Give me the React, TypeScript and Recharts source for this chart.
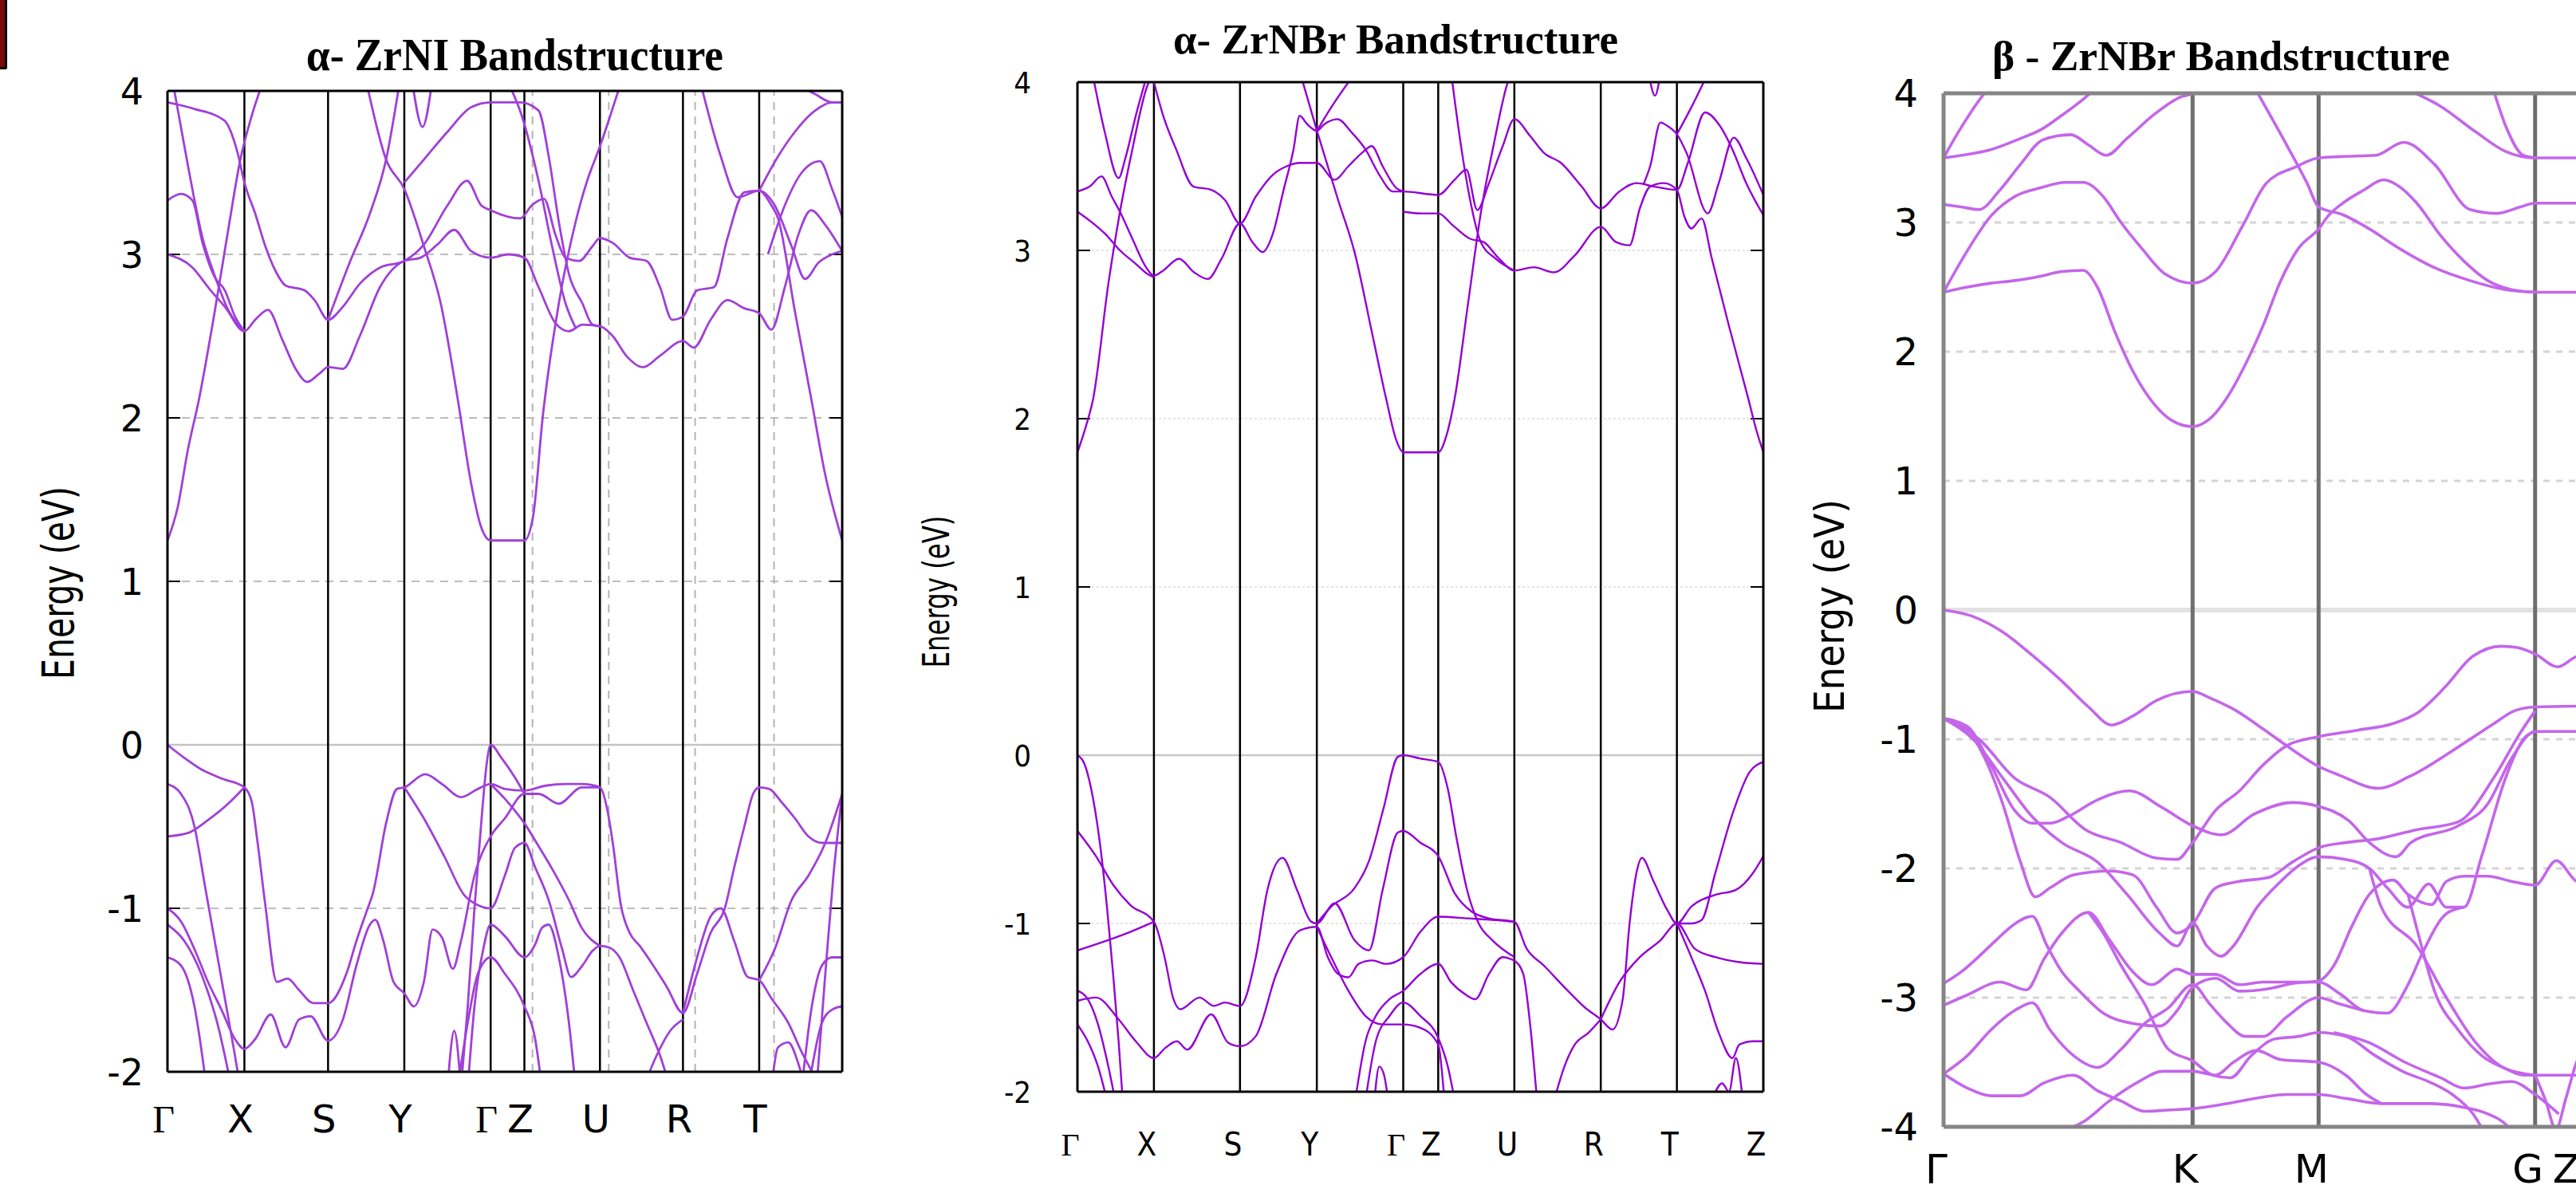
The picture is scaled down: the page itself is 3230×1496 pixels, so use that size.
import type { ReactElement } from 'react'
import { Line, LineChart, ReferenceLine, XAxis, YAxis } from 'recharts'

type Band = [number, number][]

// ---------- α-ZrNI ----------
const zrniPath = [0, 11.4, 23.8, 35.1, 47.9, 52.9, 64.1, 76.4, 87.7, 100]
const zrniLabels = ['Γ', 'X', 'S', 'Y', 'Γ', 'Z', 'U', 'R', 'T', '']
const zrniGuides = [54.1, 65.4, 78.2, 89.9]
const zrniBands: Band[] = [
	[[0, 1.25], [1.5, 1.45], [3, 1.8], [4.7, 2.12], [7, 2.65], [9, 3.15], [10.8, 3.58], [12.5, 3.85], [14.1, 4.05]],
	[[29.5, 4.05], [32.4, 3.58], [35.1, 3.4], [38, 3.05], [40.5, 2.7], [43, 2.12], [45, 1.6], [46.5, 1.33], [47.9, 1.25], [52.9, 1.25], [54.2, 1.4], [55.6, 2.0], [58, 2.7], [60.5, 3.2], [62.2, 3.45], [64, 3.65], [67.2, 4.05]],
	[[79, 4.05], [82, 3.6], [84.5, 3.35], [87.7, 3.39], [89.5, 3.3], [90.5, 3.22], [93, 2.65], [95.4, 2.12], [97.5, 1.65], [100, 1.25]],
	[[0, 3.0], [3.7, 2.92], [6.2, 2.79], [8.5, 2.68], [11.4, 2.53], [13, 2.6], [14.9, 2.66], [17, 2.48], [19, 2.3], [20.7, 2.22], [22.5, 2.27], [23.8, 2.31], [26, 2.3], [28.5, 2.5], [31.5, 2.8], [35.1, 2.96], [37.5, 2.98], [40, 3.06], [42.5, 3.15], [45, 3.02], [47.9, 2.98], [50.5, 3.0], [52.9, 2.98], [55, 2.8], [57.5, 2.58], [59.5, 2.53], [61.5, 2.57], [64.1, 2.56], [66, 2.5], [68, 2.38], [70.5, 2.31], [73, 2.38], [76.4, 2.47], [78, 2.43], [80.5, 2.6], [83, 2.72], [85.5, 2.67], [87.7, 2.64], [89.5, 2.54], [91.5, 2.8], [93.5, 3.12], [95.4, 3.27], [97.5, 3.18], [100, 3.02]],
	[[0.8, 4.05], [3, 3.55], [5.2, 3.1], [7, 2.87], [9, 2.66], [11.4, 2.53]],
	[[0, 3.33], [2, 3.37], [3.7, 3.33], [5.2, 3.07], [7, 2.86], [8.5, 2.78], [10, 2.62], [11.4, 2.53]],
	[[0, 3.93], [4, 3.89], [8.4, 3.82], [10.4, 3.62], [11.4, 3.44], [13, 3.25], [14.5, 3.05], [16, 2.9], [17.5, 2.81], [20.3, 2.78], [21.8, 2.72], [23.8, 2.6], [26, 2.68], [28.5, 2.82], [31.5, 2.92], [35.1, 2.96], [38, 3.06], [41.5, 3.3], [44.4, 3.45], [46.5, 3.3], [47.9, 3.27], [52.3, 3.22], [54, 3.3], [55.8, 3.34], [57.5, 3.12], [59, 2.98], [61, 2.96], [63, 3.05], [64.1, 3.1], [66, 3.07], [68.5, 2.98], [71, 2.96], [73, 2.8], [74.8, 2.6], [76.4, 2.62], [78.5, 2.78], [81, 2.8], [83, 3.1], [85.5, 3.38], [87.7, 3.39], [90, 3.3], [92.5, 3.05], [94.5, 2.85], [96.5, 2.95], [98.5, 3.0], [100, 3.02]],
	[[35.1, 3.44], [38, 3.58], [41.5, 3.75], [45, 3.9], [47.9, 3.93], [52.3, 3.93], [55, 3.88], [56.5, 3.6], [58, 3.2], [59.5, 2.88], [61.5, 2.7], [63, 2.57], [64.1, 2.56]],
	[[23.8, 2.6], [27, 2.95], [30, 3.25], [32.4, 3.58], [34.4, 4.05]],
	[[36.3, 4.05], [37.8, 3.78], [39.2, 4.05]],
	[[87.7, 3.39], [90.5, 3.6], [93, 3.75], [96, 3.88], [98.5, 3.93], [100, 3.93]],
	[[93, 4.05], [96, 3.98], [98.5, 3.93], [100, 3.93]],
	[[89, 3.0], [91.5, 3.3], [94, 3.5], [96.7, 3.57], [98.5, 3.4], [100, 3.23]],
	[[50.5, 4.05], [52.5, 3.85], [55, 3.45], [57, 3.05], [59, 2.7], [60.5, 2.55]],
	// valence
	[[0, 0], [2.5, -0.08], [5, -0.15], [8.3, -0.21], [11.4, -0.26], [12.5, -0.35], [13.3, -0.58], [14.5, -0.98], [16.2, -1.45], [17.8, -1.43], [19.5, -1.5], [21.6, -1.58], [23.8, -1.58], [26.6, -1.39], [28, -1.2], [29.5, -1.02], [30.5, -0.9], [32.4, -0.48], [34, -0.27], [35.1, -0.26], [38.2, -0.18], [40.7, -0.24], [43.5, -0.32], [46, -0.27], [47.9, -0.24], [50, -0.27], [52.9, -0.28], [56, -0.25], [59, -0.24], [61.4, -0.24], [64.1, -0.26], [65.2, -0.4], [66, -0.6], [67.2, -0.98], [68.5, -1.15], [70, -1.23], [72, -1.35], [74, -1.48], [76.4, -1.64], [78.5, -1.4], [80.5, -1.15], [82.6, -1.0], [84, -0.75], [85.5, -0.5], [86.8, -0.3], [87.7, -0.26], [89.2, -0.27], [91, -0.35], [93, -0.45], [95, -0.56], [97.1, -0.6], [100, -0.6]],
	[[0, -0.24], [2, -0.3], [4, -0.5], [5.5, -0.85], [7, -1.2], [8.5, -1.55], [10, -1.9], [10.8, -2.1]],
	[[0, -0.56], [3, -0.54], [6, -0.46], [9, -0.36], [11.4, -0.26]],
	[[0, -1.0], [2, -1.08], [4, -1.25], [6, -1.45], [8, -1.62], [10, -1.8], [11.4, -1.86], [13, -1.8], [15.3, -1.65], [17.5, -1.85], [19.5, -1.68], [21.2, -1.66], [23.8, -1.81], [26, -1.68], [28, -1.35], [30, -1.1], [30.8, -1.07], [32, -1.2], [33.5, -1.45], [35.1, -1.52], [36.5, -1.6], [38, -1.45], [39.3, -1.13], [40.7, -1.18], [42.3, -1.37], [43.5, -1.2], [45.5, -0.8], [47.9, -0.56], [50, -0.45], [52.9, -0.3], [55, -0.3], [58, -0.36], [61.4, -0.26], [64.1, -0.26]],
	[[35.1, -0.26], [38, -0.45], [41, -0.68], [44, -0.92], [46, -0.98], [47.9, -1.0], [50, -0.8], [51.5, -0.63], [52.9, -0.6], [54.5, -0.75], [56.5, -0.95], [58.5, -1.25], [59.8, -1.42], [61.5, -1.35], [63, -1.26], [64.1, -1.23], [65.5, -1.24], [67, -1.3], [69, -1.5], [71, -1.7], [73, -1.9], [74.5, -2.1]],
	[[43.5, -2.1], [44.5, -1.6], [45.5, -1.0], [46.5, -0.48], [47.3, -0.12], [47.9, 0], [49.5, -0.08], [51.5, -0.2], [52.9, -0.3]],
	[[47.9, -0.24], [50, -0.33], [52.9, -0.48], [55, -0.62], [57.3, -0.78], [59.5, -0.95], [61.4, -1.12], [64.1, -1.23]],
	[[44.5, -2.1], [45.5, -1.6], [46.8, -1.25], [47.9, -1.1], [50, -1.17], [52.9, -1.3], [54.5, -1.22], [55.5, -1.12], [56.5, -1.1], [58, -1.3], [59.5, -1.7], [60.5, -2.1]],
	[[43, -2.1], [44.5, -1.7], [46, -1.4], [47.9, -1.3], [50, -1.4], [52.9, -1.6], [54.5, -1.8], [55.5, -2.1]],
	[[41.5, -2.1], [42.5, -1.75], [43.5, -2.1]],
	[[76.4, -1.64], [78.5, -1.3], [80.5, -1.05], [82, -1.0], [84, -1.2], [86, -1.42], [87.7, -1.44], [89.5, -1.55], [92, -1.7], [94, -1.88], [95.5, -2.0], [96.5, -2.1]],
	[[87.7, -1.44], [90, -1.25], [92.5, -0.95], [95, -0.8], [97.5, -0.6], [100, -0.3]],
	[[94, -2.1], [95.5, -1.6], [97, -1.35], [98.5, -1.3], [100, -1.3]],
	[[89.5, -2.1], [90.5, -1.85], [92, -1.82], [93.5, -1.95], [94.5, -2.1]],
	[[95, -2.1], [97, -1.7], [98.5, -1.62], [100, -1.6]],
	[[70.5, -2.1], [72.5, -1.9], [74.5, -1.75], [76.4, -1.68]],
	[[0, -1.1], [2.5, -1.2], [5, -1.4], [7.5, -1.72], [9.5, -2.1]],
	[[0, -1.3], [2, -1.35], [4, -1.6], [5.8, -2.1]],
	[[96.2, -2.1], [97.5, -1.4], [98.7, -0.8], [100, -0.3]]
]

// ---------- α-ZrNBr ----------
const alphaPath = [0, 11.15, 23.7, 34.9, 47.5, 52.6, 63.7, 76.3, 87.4, 100]
const alphaLabels = ['Γ', 'X', 'S', 'Y', 'Γ', 'Z', 'U', 'R', 'T', 'Z']
const alphaBands: Band[] = [
	[[0, 1.8], [1.2, 1.95], [2.3, 2.12], [4.5, 2.8], [6.2, 3.23], [8, 3.6], [10.2, 3.98], [11.15, 4.05]],
	[[32.5, 4.05], [35, 3.7], [38, 3.3], [40.4, 2.99], [43, 2.5], [45, 2.12], [46.5, 1.87], [47.5, 1.8], [52.6, 1.8], [53.8, 1.9], [55, 2.12], [57, 2.7], [58.8, 3.22], [60.8, 3.65], [62.6, 3.98], [63.2, 4.05]],
	[[0, 3.35], [1.8, 3.38], [3.5, 3.44], [5, 3.32], [6.2, 3.23], [8, 3.07], [10, 2.9], [11.15, 2.85], [12.5, 2.88], [14.8, 2.95], [17, 2.87], [19, 2.83], [21, 2.95], [23.7, 3.16], [25.5, 3.05], [27, 2.99], [28.5, 3.1], [30, 3.35], [31.5, 3.6], [32.4, 3.8], [33.5, 3.75], [34.9, 3.71], [36, 3.75], [37.9, 3.78], [40, 3.7], [42, 3.6], [44, 3.45], [46, 3.35], [47.5, 3.35], [52.6, 3.33], [55, 3.42], [56.7, 3.48], [58.3, 3.24], [60, 3.4], [62, 3.62], [63.7, 3.78], [66, 3.68], [68, 3.58], [70.5, 3.52], [73.5, 3.38], [76.3, 3.25], [79, 3.35], [81.5, 3.4], [84, 3.38], [87.4, 3.36], [89, 3.52], [91.5, 3.82], [93.5, 3.75], [95.5, 3.6], [97.5, 3.4], [100, 3.21]],
	[[0, 3.23], [2, 3.17], [4, 3.1], [6.2, 3.0], [8.5, 2.92], [10.2, 2.86], [11.15, 2.84]],
	[[11.15, 4.0], [12.5, 3.8], [14.4, 3.6], [16.9, 3.38], [19.5, 3.36], [21.5, 3.3], [23.7, 3.16], [26, 3.32], [28.5, 3.45], [30.5, 3.5], [32.5, 3.52], [34.9, 3.52], [37.5, 3.42], [39.5, 3.5], [41.5, 3.58], [42.9, 3.62], [44.5, 3.5], [46.5, 3.37], [47.5, 3.35]],
	[[47.5, 3.23], [50, 3.22], [52.6, 3.22], [54.7, 3.15], [57.2, 3.07], [59.2, 3.05], [61.5, 2.95], [63.7, 2.88], [66.5, 2.9], [69.5, 2.87], [72.5, 2.97], [76.3, 3.14], [78.5, 3.05], [80.5, 3.03], [82, 3.25], [83.5, 3.38], [85.5, 3.4], [87.4, 3.36], [88.5, 3.2], [89.5, 3.13], [91, 3.19], [92.5, 2.95], [95, 2.55], [97.8, 2.12], [99, 1.93], [100, 1.8]],
	[[82.5, 3.39], [83.5, 3.5], [85, 3.76], [86, 3.74], [87.4, 3.69], [88.8, 3.58], [91.9, 3.22], [93.5, 3.4], [95.7, 3.67], [97.5, 3.55], [100, 3.33]],
	[[87.4, 3.69], [89.5, 3.85], [91.9, 4.05]],
	[[83.3, 4.05], [84.2, 3.92], [85, 4.05]],
	[[2.2, 4.05], [4, 3.7], [6, 3.43], [7, 3.55], [8.5, 3.8], [10.2, 4.05]],
	[[34.9, 3.71], [37, 3.85], [40.4, 4.05]],
	[[54.5, 4.05], [56, 3.6], [57.5, 3.25], [58.8, 3.05], [61, 2.95], [63.7, 2.88]],
	// valence
	[[0, 0], [1, -0.05], [2, -0.2], [3.2, -0.5], [4.3, -0.9], [5.2, -1.3], [6, -1.7], [6.6, -2.05]],
	[[0, -0.45], [2.7, -0.6], [5.2, -0.77], [7.7, -0.89], [11.15, -0.99], [12.7, -1.2], [14, -1.45], [15, -1.51], [17.8, -1.44], [19.9, -1.49], [21.5, -1.47], [23.7, -1.49], [26, -1.2], [27.7, -0.8], [29.9, -0.61], [32, -0.8], [34.1, -0.99], [34.9, -1.0], [37.5, -0.88], [40.4, -1.1], [42.5, -1.16], [44.5, -0.8], [46.7, -0.46], [47.5, -0.45], [50, -0.52], [52.6, -0.6], [55, -0.82], [57.5, -0.93], [60, -0.97], [63.7, -0.99], [65.5, -1.15], [68, -1.25], [71.5, -1.4], [74, -1.5], [76.3, -1.57], [78, -1.63], [79.5, -1.45], [80.5, -1.0], [81.5, -0.7], [82.3, -0.61], [84, -0.75], [86, -0.92], [87.4, -1.0], [89.5, -0.9], [93, -0.83], [96, -0.8], [98.5, -0.7], [100, -0.6]],
	[[0, -1.16], [4.4, -1.1], [7.7, -1.05], [11.15, -0.99]],
	[[0, -1.46], [2.7, -1.44], [6, -1.57], [8.5, -1.7], [11.15, -1.8], [12.8, -1.74], [14.5, -1.7], [16, -1.75], [19.5, -1.54], [22, -1.71], [23.7, -1.73], [26, -1.67], [29, -1.3], [32.5, -1.04], [34.9, -1.02], [36.5, -1.2], [38, -1.3], [39.5, -1.32], [41, -1.24], [43, -1.22], [45, -1.24], [47.5, -1.2], [50, -1.05], [52.6, -0.96], [57, -0.97], [61, -0.98], [63.7, -0.99]],
	[[0, -1.4], [1.5, -1.45], [3, -1.6], [4.5, -1.85], [5.5, -2.05]],
	[[0, -1.6], [1.5, -1.7], [3, -1.85], [4.3, -2.05]],
	[[34.9, -1.0], [37, -0.9], [40.4, -0.79], [42.5, -0.63], [44.6, -0.32], [46.7, -0.01], [47.5, 0], [50, -0.02], [52.6, -0.04], [54, -0.2], [55.3, -0.5], [56.8, -0.8], [58.5, -1.0], [60.5, -1.1], [63.7, -1.2]],
	[[40.5, -2.05], [42, -1.7], [43.5, -1.55], [45.5, -1.45], [47.5, -1.4], [50, -1.3], [52.6, -1.24], [54.5, -1.35], [56.5, -1.42], [58, -1.45], [60, -1.3], [62, -1.2], [63.7, -1.22]],
	[[42, -2.05], [43.5, -1.7], [45.5, -1.55], [47.5, -1.47], [50, -1.55], [52.6, -1.68], [54, -1.85], [55, -2.05]],
	[[34.9, -1.02], [37, -1.2], [39.5, -1.4], [42, -1.55], [44.5, -1.6], [47.5, -1.6], [50, -1.62], [52.6, -1.72], [53.5, -2.05]],
	[[43.3, -2.05], [44, -1.85], [44.7, -1.9], [45.3, -2.05]],
	[[63.7, -1.22], [65, -1.3], [66, -1.6], [67, -2.05]],
	[[69.5, -2.05], [71, -1.85], [72.5, -1.72], [74.5, -1.65], [76.3, -1.57]],
	[[87.4, -1.0], [89.5, -1.0], [91, -0.98], [93, -0.7], [95.5, -0.35], [98, -0.1], [100, -0.04]],
	[[76.3, -1.57], [79, -1.35], [82, -1.2], [85, -1.1], [87.4, -1.0], [90, -1.15], [93, -1.2], [96.5, -1.23], [100, -1.24]],
	[[87.4, -1.0], [89.5, -1.2], [91.5, -1.4], [93.5, -1.65], [95.5, -1.8], [96.5, -1.72], [98.5, -1.7], [100, -1.7]],
	[[92.5, -2.05], [94, -1.95], [95, -2.0], [96, -1.8], [97, -2.05]]
]

// ---------- β-ZrNBr ----------
const betaPath = [0, 42.1, 63.4, 100, 106.5]
const betaLabels = ['Γ', 'K', 'M', 'G', 'Z']
const betaBands: Band[] = [
	[[0, 3.5], [2.5, 3.7], [5, 3.88], [7.7, 4.05]],
	[[0, 3.5], [3, 3.52], [7.7, 3.56], [13, 3.65], [16.5, 3.72], [20, 3.83], [23.5, 3.95], [26, 4.05]],
	[[0, 3.14], [3, 3.12], [6, 3.1], [9.5, 3.25], [13, 3.45], [16.8, 3.64], [21.5, 3.68], [24.5, 3.6], [27.5, 3.52], [31, 3.65], [35.7, 3.84], [40, 3.97], [42.1, 4.0], [43, 4.05]],
	[[0, 2.46], [4, 2.5], [8, 2.53], [12, 2.55], [16, 2.58], [20, 2.62], [23.6, 2.63], [26, 2.5], [29, 2.15], [32, 1.85], [35.5, 1.6], [38.5, 1.47], [42.1, 1.42], [45, 1.48], [48, 1.65], [51, 1.9], [54, 2.2], [57, 2.55], [60, 2.8], [63.4, 2.95], [65, 3.05], [67.5, 3.15], [71, 3.25], [74.4, 3.33], [77, 3.28], [80, 3.15], [84, 2.9], [88, 2.7], [92, 2.55], [96, 2.48], [100, 2.46], [115, 2.46]],
	[[0, 2.46], [4, 2.78], [8, 3.05], [12, 3.2], [16.5, 3.27], [20.5, 3.31], [23.6, 3.31], [27, 3.2], [30, 3.0], [33.5, 2.8], [37.5, 2.6], [42.1, 2.53], [46, 2.62], [50.5, 2.97], [54.5, 3.3], [59.5, 3.43], [63.4, 3.5], [67, 3.51], [73, 3.52], [77.8, 3.62], [83, 3.45], [89, 3.1], [93.5, 3.07], [97.5, 3.12], [100, 3.15], [115, 3.15]],
	[[52.5, 4.05], [58, 3.6], [61.5, 3.3], [63.4, 3.12], [67.5, 3.06], [72, 2.95], [77, 2.8], [83, 2.65], [89, 2.55], [95, 2.48], [100, 2.46]],
	[[77.3, 4.05], [84, 3.9], [90, 3.7], [95, 3.55], [100, 3.5], [115, 3.5]],
	[[92.8, 4.05], [95, 3.75], [98, 3.52], [100, 3.5]],
	// valence
	[[0, 0], [5, -0.05], [10, -0.17], [15, -0.35], [20, -0.55], [24.5, -0.75], [28.4, -0.89], [32, -0.82], [36, -0.7], [42.1, -0.63], [45, -0.68], [49.5, -0.78], [54, -0.92], [58, -1.05], [63.4, -1.21], [67, -1.28], [73.5, -1.38], [78.7, -1.29], [88, -1.03], [93, -0.88], [96.5, -0.78], [100, -0.75], [115, -0.74]],
	[[0, -0.84], [4, -0.9], [8, -1.2], [12, -1.55], [15, -1.65], [18, -1.65], [21, -1.6], [26, -1.47], [31.4, -1.4], [37, -1.53], [42.1, -1.67], [47, -1.74], [52.5, -1.58], [59, -1.49], [63.4, -1.52], [68.5, -1.63], [72, -1.8], [76.5, -1.91], [79, -1.8], [87, -1.67], [92, -1.5], [96, -1.15], [100, -0.94], [115, -0.94]],
	[[0, -0.84], [3.5, -0.9], [7, -1.15], [10, -1.5], [13, -1.95], [15.5, -2.22], [18, -2.15], [22, -2.05], [28, -2.02], [32, -2.05], [36, -2.3], [39.5, -2.5], [42.1, -2.43], [46, -2.15], [50, -2.1], [55, -2.07], [59, -1.95], [63.4, -1.84], [68, -1.8], [73.5, -1.77], [80, -1.7], [87, -1.64], [93, -1.3], [97.5, -0.95], [100, -0.78]],
	[[0, -0.84], [5, -1.0], [10, -1.3], [15, -1.6], [20, -1.8], [26, -1.95], [31, -2.2], [36.5, -2.5], [39.5, -2.6], [42.1, -2.42], [44.5, -2.6], [46.9, -2.68], [49, -2.6], [53, -2.3], [57, -2.1], [60, -1.98], [63.4, -1.91], [68, -1.93], [72, -2.0], [75, -2.15], [78.5, -2.3], [82, -2.12], [85, -2.3], [88, -2.3], [91, -1.9], [95, -1.3], [98, -1.0], [100, -0.94]],
	[[0, -0.84], [6, -1.0], [12, -1.3], [18, -1.45], [24, -1.7], [30, -1.8], [36, -1.92], [39.5, -1.93], [42.1, -1.8], [46, -1.55], [50, -1.4], [54, -1.2], [58, -1.05], [63.4, -0.98], [70, -0.93], [75.9, -0.88], [80.3, -0.79], [84.9, -0.59], [89.4, -0.36], [94.3, -0.28], [97, -0.29], [100, -0.34], [103.8, -0.44], [107, -0.36], [115, -0.3]],
	[[0, -2.89], [3, -2.8], [6, -2.68], [9, -2.55], [12, -2.43], [15, -2.37], [17.5, -2.6], [20, -2.8], [23, -2.95], [27, -3.12], [32, -3.2], [36.5, -3.22], [39.5, -3.1], [42.1, -2.92], [46, -2.85], [50, -2.95], [55, -2.93], [59, -2.89], [63.4, -2.87], [66, -2.75], [69, -2.45], [72, -2.2], [76, -2.09], [78.5, -2.2], [82.5, -2.28], [85, -2.1], [88, -2.06], [92, -2.06], [96, -2.1], [100, -2.13], [103.6, -1.94], [107, -2.1], [115, -2.2]],
	[[0, -3.06], [4, -2.98], [9.5, -2.88], [14, -2.94], [17, -2.7], [20, -2.5], [24.5, -2.34], [28, -2.55], [32, -2.8], [35.2, -2.9], [39.5, -2.78], [42.1, -2.82], [46, -2.82], [50, -2.9], [54, -2.88], [58, -2.88], [63.4, -2.88], [67, -2.97], [71, -3.1], [75, -3.12], [78.5, -2.9], [81, -2.65], [85, -2.35], [88, -2.3]],
	[[0, -3.59], [4, -3.45], [8, -3.25], [12, -3.1], [15, -3.04], [18, -3.25], [22, -3.45], [26, -3.54], [30, -3.4], [34, -3.2], [38, -3.08], [42.1, -2.9], [45, -3.05], [48, -3.2], [51, -3.3], [54, -3.3], [58, -3.15], [63.4, -3.0], [67, -3.05], [71, -3.1]],
	[[0, -3.59], [4, -3.7], [8, -3.76], [13, -3.76], [17, -3.66], [21.9, -3.6], [26, -3.72], [30, -3.8], [34, -3.88], [38, -3.87], [42.1, -3.86], [48, -3.82], [54, -3.77], [58, -3.75], [63.4, -3.75], [68, -3.78], [74, -3.82], [82, -3.82], [88, -3.85], [92, -3.9], [95, -3.98], [97, -4.1]],
	[[19, -4.05], [24, -3.95], [28, -3.8], [33, -3.65], [37, -3.57], [42.1, -3.57], [46, -3.6], [49, -3.5], [52.9, -3.41], [57, -3.48], [63.4, -3.5], [68, -3.6], [71.5, -3.75], [74, -3.82]],
	[[24.5, -2.34], [27, -2.5], [30, -2.75], [34, -3.05], [38, -3.4], [42.1, -3.49], [45.5, -3.6], [48.5, -3.62], [52, -3.45], [56, -3.32], [60, -3.3], [63.4, -3.27], [68, -3.3], [73, -3.45], [78, -3.58], [82, -3.65], [86, -3.75], [89.5, -3.9], [91.5, -4.05]],
	[[78.5, -2.2], [80.5, -2.55], [83, -2.95], [87, -3.25], [91, -3.45], [95, -3.55], [98, -3.6], [100, -3.6], [115, -3.6]],
	[[72, -2.0], [74, -2.3], [80, -2.6], [85, -3.0], [90, -3.35], [95, -3.55], [100, -3.6]],
	[[100, -3.6], [101.8, -3.8], [103.5, -4.02], [105.2, -3.78], [107, -3.5], [110, -3.3]],
	[[66, -3.27], [72, -3.35], [78, -3.5], [84, -3.62], [88, -3.7], [92, -3.67], [96, -3.65], [100, -3.75], [104, -3.9]]
]

const ticksSix = [-2, -1, 0, 1, 2, 3, 4]
const ticksEight = [-4, -3, -2, -1, 0, 1, 2, 3, 4]

type PanelProps = {
	left: number
	top: number
	width: number
	height: number
	xMax: number
	yMin: number
	yMax: number
	yTicks: number[]
	path: number[]
	labels: string[]
	labelDx: number
	labelDy: number
	labelFont: string
	labelSize: number
	greekFont: string
	tickFont: string
	tickSize: number
	tickGap: number
	bands: Band[]
	color: string
	lineWidth: number
	frameColor: string
	frameWidth: number
	symColor: string
	symWidth: number
	gridColor: string
	gridDash: string
	gridWidth: number
	zeroColor: string
	zeroWidth: number
	guides?: number[]
	rightFrame: boolean
	innerTicks?: boolean
}

const LM = 260
const TM = 40
const RM = 14
const BM = 150

const Panel = (p: PanelProps): ReactElement => {
	const series = p.bands.map((b) => b.map(([k, e]) => ({ k, e })))
	const grid = p.yTicks.filter((v) => v !== 0 && v !== p.yMin && v !== p.yMax)
	const tickLen = (p.xMax * 16) / p.width

	const xTick = (props: any) => {
		const i = p.path.indexOf(props.payload.value)
		const label = p.labels[i] ?? ''
		return (
			<text
				x={props.x + p.labelDx}
				y={props.y + p.labelDy}
				textAnchor='middle'
				fontFamily={label === 'Γ' ? p.greekFont : p.labelFont}
				fontSize={p.labelSize}
				fill='#000'
			>
				{label}
			</text>
		)
	}
	const yTick = (props: any) => (
		<text
			x={props.x}
			y={props.y}
			dy='0.36em'
			textAnchor='end'
			fontFamily={p.tickFont}
			fontSize={p.tickSize}
			fill='#000'
		>
			{props.payload.value}
		</text>
	)

	return (
		<div style={{ position: 'absolute', left: p.left - LM, top: p.top - TM }}>
			<LineChart
				width={LM + p.width + RM}
				height={TM + p.height + BM}
				margin={{ top: TM, right: RM, bottom: 0, left: 0 }}
			>
				<XAxis
					dataKey='k'
					type='number'
					domain={[0, p.xMax]}
					ticks={p.path}
					interval={0}
					allowDataOverflow
					height={BM}
					axisLine={false}
					tickLine={false}
					tickSize={0}
					tickMargin={0}
					tick={xTick}
				/>
				<YAxis
					type='number'
					domain={[p.yMin, p.yMax]}
					ticks={p.yTicks}
					interval={0}
					allowDataOverflow
					width={LM}
					axisLine={false}
					tickLine={false}
					tickSize={0}
					tickMargin={p.tickGap}
					tick={yTick}
				/>
				{grid.map((v) => (
					<ReferenceLine key={`g${v}`} y={v} stroke={p.gridColor} strokeWidth={p.gridWidth} strokeDasharray={p.gridDash} />
				))}
				<ReferenceLine y={0} stroke={p.zeroColor} strokeWidth={p.zeroWidth} />
				{(p.guides ?? []).map((v) => (
					<ReferenceLine key={`d${v}`} x={v} stroke='#b4b4b4' strokeWidth={2} strokeDasharray='10 8' />
				))}
				{p.path.slice(1).filter((v) => v < 100 || (v === 100 && !p.rightFrame)).map((v) => (
					<ReferenceLine key={`s${v}`} x={v} stroke={p.symColor} strokeWidth={p.symWidth} />
				))}
				{p.innerTicks &&
					grid.map((v) => (
						<ReferenceLine key={`tl${v}`} segment={[{ x: 0, y: v }, { x: tickLen, y: v }]} stroke='#000' strokeWidth={2} />
					))}
				{p.innerTicks &&
					grid.map((v) => (
						<ReferenceLine key={`tr${v}`} segment={[{ x: p.xMax - tickLen, y: v }, { x: p.xMax, y: v }]} stroke='#000' strokeWidth={2} />
					))}
				{series.map((s, i) => (
					<Line
						key={`b${i}`}
						data={s}
						dataKey='e'
						type='monotone'
						stroke={p.color}
						strokeWidth={p.lineWidth}
						dot={false}
						activeDot={false}
						isAnimationActive={false}
					/>
				))}
				<ReferenceLine y={p.yMax} stroke={p.frameColor} strokeWidth={p.frameWidth} />
				<ReferenceLine y={p.yMin} stroke={p.frameColor} strokeWidth={p.frameWidth} />
				<ReferenceLine x={0} stroke={p.frameColor} strokeWidth={p.frameWidth} />
				{p.rightFrame && <ReferenceLine x={p.xMax} stroke={p.frameColor} strokeWidth={p.frameWidth} />}
			</LineChart>
		</div>
	)
}

const App = (): ReactElement => (
	<div style={{ position: 'absolute', left: 0, top: 0, width: 3230, height: 1496, overflow: 'hidden', background: '#fff' }}>
		<Panel
			left={210} top={114} width={846} height={1230} xMax={100} yMin={-2} yMax={4} yTicks={ticksSix}
			path={zrniPath} labels={zrniLabels} labelDx={-5} labelDy={76} labelFont='DejaVu Sans' labelSize={48}
			greekFont='Liberation Serif' tickFont='DejaVu Sans' tickSize={46} tickGap={30}
			bands={zrniBands} color='#a040d8' lineWidth={2.8}
			frameColor='#000' frameWidth={3} symColor='#000' symWidth={2.5}
			gridColor='#bdbdbd' gridDash='10 8' gridWidth={2} zeroColor='#c4c4c4' zeroWidth={2.5}
			guides={zrniGuides} rightFrame innerTicks
		/>
		<Panel
			left={1351} top={103} width={860} height={1266} xMax={100} yMin={-2} yMax={4} yTicks={ticksSix}
			path={alphaPath} labels={alphaLabels} labelDx={-9} labelDy={80} labelFont='DejaVu Sans Condensed' labelSize={40}
			greekFont='Liberation Serif' tickFont='DejaVu Sans Condensed' tickSize={38} tickGap={58}
			bands={alphaBands} color='#9400d3' lineWidth={2.4}
			frameColor='#000' frameWidth={3} symColor='#000' symWidth={2.5}
			gridColor='#dcdcdc' gridDash='3 3' gridWidth={1.5} zeroColor='#c8c8c8' zeroWidth={2.5}
			rightFrame innerTicks
		/>
		<Panel
			left={2437} top={117} width={853} height={1296} xMax={115} yMin={-4} yMax={4} yTicks={ticksEight}
			path={betaPath} labels={betaLabels} labelDx={-9} labelDy={70} labelFont='DejaVu Sans' labelSize={50}
			greekFont='DejaVu Sans' tickFont='DejaVu Sans' tickSize={48} tickGap={32}
			bands={betaBands} color='#c466ea' lineWidth={3.6}
			frameColor='#858585' frameWidth={5} symColor='#6e6e6e' symWidth={5}
			gridColor='#d4d4d4' gridDash='8 8' gridWidth={3} zeroColor='#e2e2e2' zeroWidth={6}
			rightFrame={false}
		/>
		<svg width={3230} height={1496} style={{ position: 'absolute', left: 0, top: 0, pointerEvents: 'none' }}>
			<text x={384} y={88} fontFamily='Liberation Serif' fontWeight='bold' fontSize={56} textLength={523} lengthAdjust='spacingAndGlyphs'>
				α- ZrNI Bandstructure
			</text>
			<text x={1471} y={67} fontFamily='Liberation Serif' fontWeight='bold' fontSize={52} textLength={558} lengthAdjust='spacingAndGlyphs'>
				α- ZrNBr Bandstructure
			</text>
			<text x={2498} y={88} fontFamily='Liberation Serif' fontWeight='bold' fontSize={52} textLength={574} lengthAdjust='spacingAndGlyphs'>
				β - ZrNBr Bandstructure
			</text>
			<text transform='translate(92 731) rotate(-90)' textAnchor='middle' fontFamily='DejaVu Sans' fontSize={56} textLength={242} lengthAdjust='spacingAndGlyphs'>
				Energy (eV)
			</text>
			<text transform='translate(1190 742) rotate(-90)' textAnchor='middle' fontFamily='DejaVu Sans Condensed' fontSize={46} textLength={191} lengthAdjust='spacingAndGlyphs'>
				Energy (eV)
			</text>
			<text transform='translate(2312 760) rotate(-90)' textAnchor='middle' fontFamily='DejaVu Sans' fontSize={52} textLength={268} lengthAdjust='spacingAndGlyphs'>
				Energy (eV)
			</text>
		</svg>
		<div style={{ position: 'absolute', left: 0, top: 0, width: 6, height: 84, background: '#7a0a0a', borderRight: '3px solid #000', borderBottom: '3px solid #000', borderBottomRightRadius: 3 }} />
	</div>
)

export default App
